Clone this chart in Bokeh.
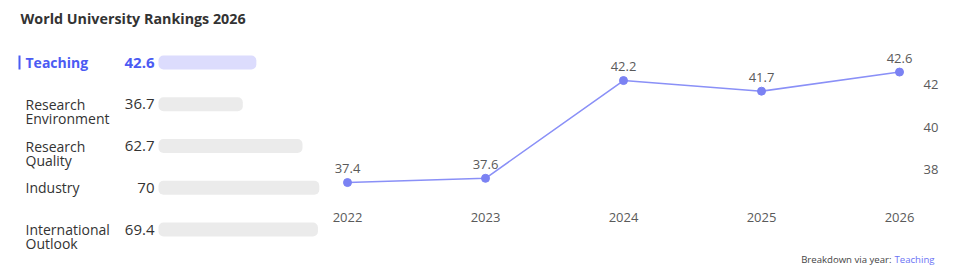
from bokeh.plotting import figure
from bokeh.layouts import row, column
from bokeh.models import Range1d, FixedTicker, Label, LabelSet, ColumnDataSource
from bokeh.core.properties import value
from bokeh.embed import file_html
from bokeh.resources import INLINE

# ---------------- data ----------------
categories = ["Teaching", "Research\nEnvironment", "Research\nQuality", "Industry", "International\nOutlook"]
scores = [42.6, 36.7, 62.7, 70, 69.4]
score_labels = ["42.6", "36.7", "62.7", "70", "69.4"]
years = [2022, 2023, 2024, 2025, 2026]
teaching_by_year = [37.4, 37.6, 42.2, 41.7, 42.6]
teaching_labels = ["37.4", "37.6", "42.2", "41.7", "42.6"]
y_ticks = [38, 40, 42]
title_text = "World University Rankings 2026"
footer_prefix = "Breakdown via year:"
selected = "Teaching"

FONT = "Open Sans"
BLUE = "#4b5bf3"
DARK = "#333333"
GREY = "#5a5a5a"

# ---------------- left panel (score bars) ----------------
PXU = 2.297          # pixels per score unit
X0 = 158             # pixel where bars start
LW, H = 320, 276

def xd(px):
    return (px - X0) / PXU

left = figure(width=LW, height=H, output_backend="svg", toolbar_location=None,
              x_range=Range1d(xd(0), xd(LW)), y_range=Range1d(H, 0),
              x_axis_location=None, y_axis_location=None,
              min_border=0, min_border_left=0, min_border_right=0,
              min_border_top=0, min_border_bottom=0)
left.frame_align = False
left.grid.visible = False
left.outline_line_color = None
left.background_fill_color = "white"
left.border_fill_color = "white"

row_y = [62 + 41.75 * i for i in range(len(categories))]
bar_colors = ["#dcdcfd" if c == selected else "#ebebeb" for c in categories]
first_lines = [c.split("\n")[0] for c in categories]
second_lines = [c.split("\n")[1] if "\n" in c else "" for c in categories]

left.hbar(y=row_y, left=0, right=scores, height=14, fill_color=bar_colors,
          line_color=None, border_radius=5)

sel = [i for i, c in enumerate(categories) if c == selected]
oth = [i for i, c in enumerate(categories) if c != selected]

# selected row
left.text(x=[xd(25)] * len(sel), y=[row_y[i] for i in sel], text=[first_lines[i] for i in sel],
          text_font=value(FONT), text_font_size="14px", text_font_style="bold",
          text_color=BLUE, text_baseline="middle", text_align="left")
left.text(x=[xd(154)] * len(sel), y=[row_y[i] for i in sel], text=[score_labels[i] for i in sel],
          text_font=value(FONT), text_font_size="15px", text_font_style="bold",
          text_color=BLUE, text_baseline="middle", text_align="right")
left.quad(left=[xd(18)] * len(sel), right=[xd(20)] * len(sel),
          top=[row_y[i] - 7 for i in sel], bottom=[row_y[i] + 7 for i in sel],
          fill_color=BLUE, line_color=None)

# other rows
left.text(x=[xd(25)] * len(oth), y=[row_y[i] for i in oth], text=[first_lines[i] for i in oth],
          text_font=value(FONT), text_font_size="14px", text_color=DARK,
          text_baseline="middle", text_align="left")
left.text(x=[xd(25)] * len(oth), y=[row_y[i] + 14 for i in oth], text=[second_lines[i] for i in oth],
          text_font=value(FONT), text_font_size="14px", text_color=DARK,
          text_baseline="middle", text_align="left")
left.text(x=[xd(154)] * len(oth), y=[row_y[i] for i in oth], text=[score_labels[i] for i in oth],
          text_font=value(FONT), text_font_size="15px", text_color=DARK,
          text_baseline="middle", text_align="right")

left.add_layout(Label(x=xd(20), y=18, text=title_text, text_font=FONT, text_font_size="14.3px",
                      text_font_style="bold", text_color=DARK, text_baseline="middle",
                      text_align="left"))

# ---------------- right panel (trend line) ----------------
RW = 640
FH = 30                       # footer strip height
RH = H - FH
FRAME_L, FRAME_R = 320, 915
FRAME_T, FRAME_B = 40, 200
YR_PX = 138.0
Y_PX = 21.25
x_start = years[0] - (347 - FRAME_L) / YR_PX
x_end = years[0] + (FRAME_R - 347) / YR_PX
y_top = 42 + (84.3 - FRAME_T) / Y_PX
y_bot = 42 - (FRAME_B - 84.3) / Y_PX

right = figure(width=RW, height=RH, output_backend="svg", toolbar_location=None,
               x_range=Range1d(x_start, x_end), y_range=Range1d(y_bot, y_top),
               x_axis_location="below", y_axis_location="right",
               min_border_left=0, min_border_right=RW - (FRAME_R - FRAME_L),
               min_border_top=FRAME_T, min_border_bottom=RH - FRAME_B)
right.frame_align = False
right.grid.visible = False
right.outline_line_color = None
right.background_fill_color = "white"
right.border_fill_color = "white"

for ax in (right.xaxis[0], right.yaxis[0]):
    ax.axis_line_color = None
    ax.major_tick_line_color = None
    ax.minor_tick_line_color = None
    ax.major_tick_out = 0
    ax.major_tick_in = 0
    ax.minor_tick_out = 0
    ax.major_label_text_font = FONT
    ax.major_label_text_font_size = "13px"
    ax.major_label_text_color = GREY

right.xaxis[0].ticker = FixedTicker(ticks=years)
right.xaxis[0].major_label_standoff = 12
right.yaxis[0].ticker = FixedTicker(ticks=y_ticks)
right.yaxis[0].major_label_standoff = 8

src = ColumnDataSource(dict(x=years, y=teaching_by_year, t=teaching_labels))
right.line("x", "y", source=src, line_color="#8a90f7", line_width=1.6)
right.scatter("x", "y", source=src, size=8, fill_color="#7b82f3", line_color="#7b82f3")
right.add_layout(LabelSet(x="x", y="y", text="t", source=src, y_offset=14,
                          text_font=value(FONT), text_font_size="13px", text_color=GREY,
                          text_align="center", text_baseline="middle"))

# ---------------- footer strip ----------------
footer = figure(width=RW, height=FH, output_backend="svg", toolbar_location=None,
                x_range=Range1d(0, RW), y_range=Range1d(FH, 0),
                x_axis_location=None, y_axis_location=None,
                min_border=0, min_border_left=0, min_border_right=0,
                min_border_top=0, min_border_bottom=0)
footer.frame_align = False
footer.grid.visible = False
footer.outline_line_color = None
footer.background_fill_color = "white"
footer.border_fill_color = "white"
footer.text(x=[614], y=[13], text=[selected], text_font=value(FONT), text_font_size="9.6px",
            text_color="#6b73f5", text_align="right", text_baseline="middle")
footer.text(x=[571], y=[13], text=[footer_prefix], text_font=value(FONT), text_font_size="9.6px",
            text_color="#444444", text_align="right", text_baseline="middle")

layout = row(left, column(right, footer, spacing=0), spacing=0)
open("out.html", "w").write(file_html(layout, INLINE))
